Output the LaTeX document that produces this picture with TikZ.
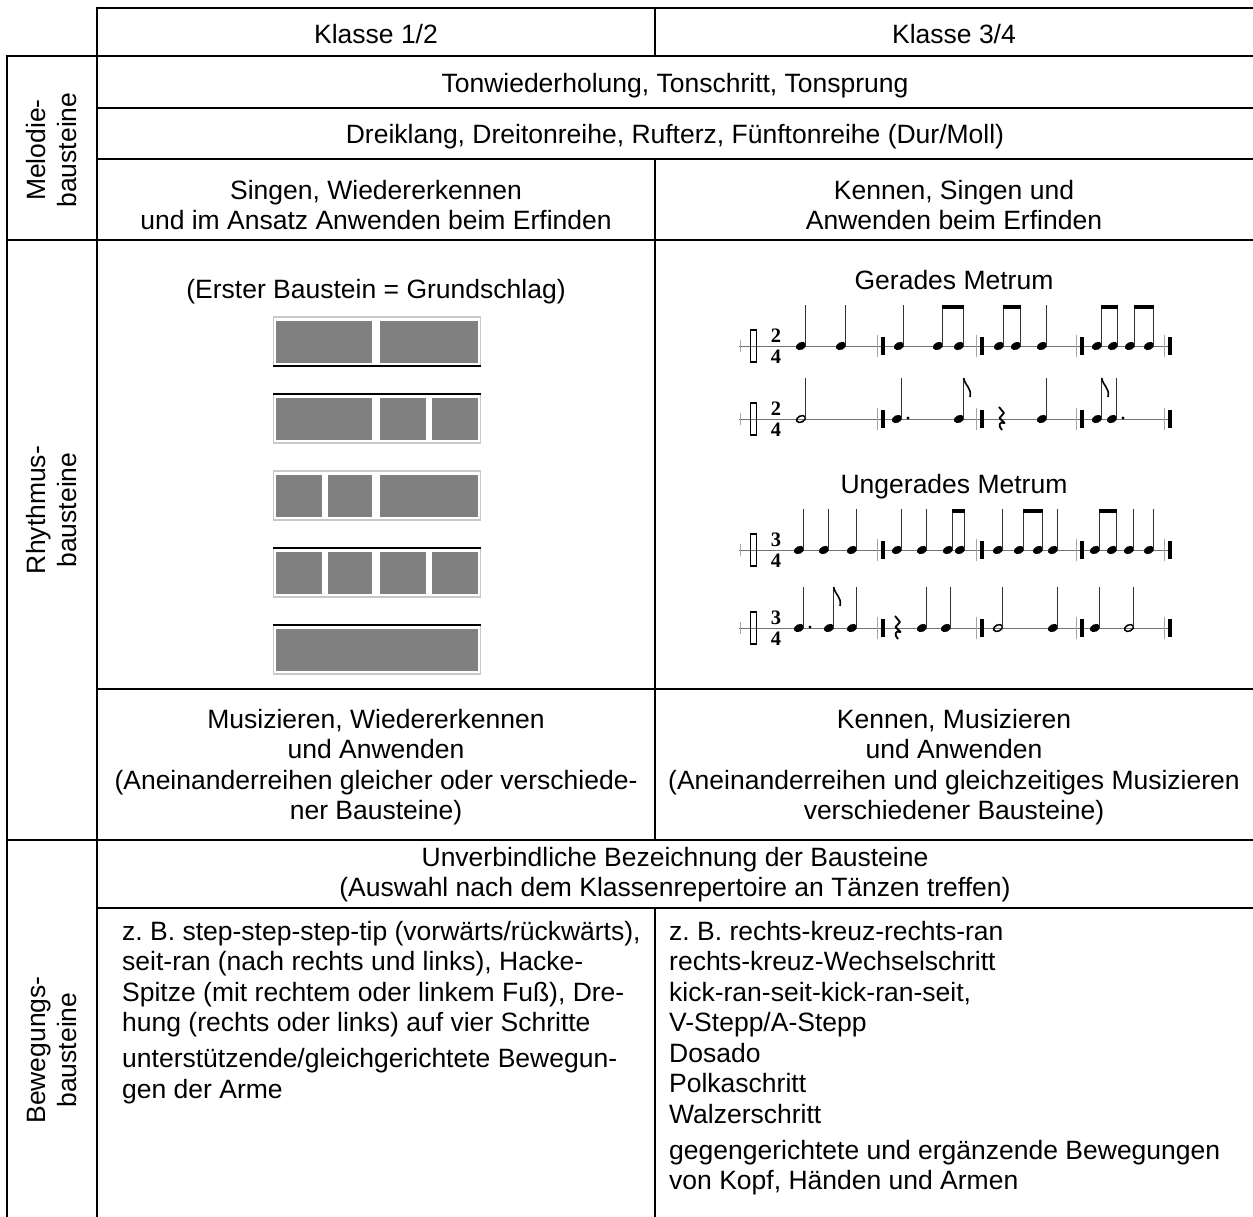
\documentclass[tikz,border=0pt]{standalone}
\usepackage{fontspec}
\setmainfont{Liberation Sans}
\newfontfamily\musicnum{Liberation Serif}
\definecolor{rgray}{RGB}{128,128,128}
\definecolor{bgray}{RGB}{200,200,200}
\newcommand\mhead[2]{\fill[rotate around={25:(#1,#2)}] (#1,#2) ellipse [x radius=5.4, y radius=3.8];}
\newcommand\mstem[2]{\draw[mstemline] (#1+4.7,#2-1) -- (#1+4.7,#2-41);}
\newcommand\mq[2]{\mhead{#1}{#2}\mstem{#1}{#2}}
\newcommand\mh[2]{\draw[line width=1.5, rotate around={25:(#1,#2)}] (#1,#2) ellipse [x radius=4.7, y radius=3.1];\mstem{#1}{#2}}
\newcommand\mdotted[2]{\fill (#1+11,#2-1) circle (1.7);}
\newcommand\mflag[2]{\draw[line width=1.6] (#1+4.7,#2-41) .. controls (#1+6,#2-33) and (#1+13,#2-31) .. (#1+11,#2-22);}
\newcommand\mbeam[3]{\draw[line width=4] (#1+4.2,#3-39) -- (#2+5.2,#3-39);}
\newcommand\mrest[2]{\draw[line width=1.8, line join=round] (#1-2,#2-12) -- (#1+3,#2-6) -- (#1-1.5,#2-1) -- (#1+3.5,#2+4) .. controls (#1-2,#2+2) and (#1-3,#2+7) .. (#1+1,#2+11);}
\newcommand\mbar[2]{\draw[black!35, line width=0.8] (#1,#2-11) -- (#1,#2+11);\draw[line width=3.5] (#1+6,#2-9) -- (#1+6,#2+9);}
\newcommand\mstaff[4]{%
  \draw[black!55, line width=0.9] (739,#1) -- (1172,#1);
  \draw[black!35, line width=0.8] (740,#1-6) -- (740,#1+6);
  \draw[line width=1.3] (750.5,#1-16) rectangle (756.5,#1+16);
  \node[tsig] (tsa#4) at (776,#1-10.5) {#2};
  \node[tsig] (tsb#4) at (776,#1+10.5) {#3};}
\newcommand\rblk[2]{%
  \draw[bgray, line width=1.6] (273.5,#1) rectangle (480.5,#1+49);
  \foreach \a/\b in {#2} \fill[rgray] (\a,#1+3.5) rectangle (\b,#1+45.5);}
\begin{document}
\frenchspacing
\begin{tikzpicture}[x=1pt,y=-1pt,
  grid/.style={line width=2.6pt},
  txt/.style={font=\fontsize{26.5}{30.5}\selectfont, inner sep=0pt, anchor=base},
  txtw/.style={txt, anchor=base west},
  side/.style={font=\fontsize{26.5}{31}\selectfont, inner sep=0pt, rotate=90, align=center},
  tsig/.style={font=\musicnum\bfseries\fontsize{20.5}{20.5}\selectfont, inner sep=0pt},
  mstemline/.style={line width=1.1, black!80}]
\useasboundingbox (0,0) rectangle (1253,1216);
% grid
\draw[grid] (97,8) -- (1262,8);
\draw[grid] (5.7,56) -- (1262,56);
\draw[grid] (97,108) -- (1262,108);
\draw[grid] (97,159) -- (1262,159);
\draw[grid] (5.7,240) -- (1262,240);
\draw[grid] (97,689) -- (1262,689);
\draw[grid] (5.7,840) -- (1262,840);
\draw[grid] (97,908) -- (1262,908);
\draw[grid] (7,56) -- (7,1230);
\draw[grid] (97,6.7) -- (97,1230);
\draw[grid] (655,8) -- (655,56);
\draw[grid] (655,159) -- (655,840);
\draw[grid] (655,908) -- (655,1230);
% header
\node[txt] (k12) at (376,43) {Klasse 1/2};
\node[txt] (k34) at (954,43) {Klasse 3/4};
% side labels
\node[side] (mel) at (52,150) {Melodie-\\bausteine};
\node[side] (rhy) at (52,510) {Rhythmus-\\bausteine};
\node[side] (bew) at (52,1050) {Bewegungs-\\bausteine};
% Melodie
\node[txt] (ton) at (675,92) {Tonwiederholung, Tonschritt, Tonsprung};
\node[txt] (drei) at (675,143) {Dreiklang, Dreitonreihe, Rufterz, Fünftonreihe (Dur/Moll)};
\node[txt] (sa) at (376,199) {Singen, Wiedererkennen};
\node[txt] (sb) at (376,229.5) {und im Ansatz Anwenden beim Erfinden};
\node[txt] (ka) at (954,199) {Kennen, Singen und};
\node[txt] (kb) at (954,229.5) {Anwenden beim Erfinden};
% Rhythmus left
\node[txt] (erster) at (376,298) {(Erster Baustein = Grundschlag)};
\rblk{317}{276/372,380/478}
\draw[line width=1.5] (273,366) -- (481,366);
\rblk{394}{276/372,380/426,432/478}
\draw[line width=1.5] (273,394) -- (481,394);
\rblk{471}{276/322,328/372,380/478}
\rblk{548}{276/322,328/372,380/426,432/478}
\draw[line width=1.5] (273,548) -- (481,548);
\rblk{625}{276/478}
\draw[line width=1.5] (273,625) -- (481,625);
% Rhythmus right
\node[txt] (ger) at (954,289) {Gerades Metrum};
\node[txt] (unger) at (954,493) {Ungerades Metrum};
% row 1
\mstaff{346}{2}{4}{r1}
\mq{801}{346}\mq{841}{346}
\mbar{877}{346}
\mq{899}{346}\mq{938}{346}\mq{959}{346}\mbeam{938}{959}{346}
\mbar{976}{346}
\mq{999}{346}\mq{1016}{346}\mbeam{999}{1016}{346}\mq{1042}{346}
\mbar{1076}{346}
\mq{1097}{346}\mq{1113}{346}\mbeam{1097}{1113}{346}\mq{1130}{346}\mq{1149}{346}\mbeam{1130}{1149}{346}
\mbar{1164}{346}
% row 2
\mstaff{419}{2}{4}{r2}
\mh{801}{419}
\mbar{877}{419}
\mq{897}{419}\mdotted{897}{419}\mq{959}{419}\mflag{959}{419}
\mbar{976}{419}
\mrest{1001}{419}\mq{1042}{419}
\mbar{1076}{419}
\mq{1097}{419}\mflag{1097}{419}\mq{1112}{419}\mdotted{1112}{419}
\mbar{1164}{419}
% row 3
\mstaff{550}{3}{4}{r3}
\mq{799}{550}\mq{824}{550}\mq{852}{550}
\mbar{877}{550}
\mq{897}{550}\mq{922}{550}\mq{948}{550}\mq{960}{550}\mbeam{948}{960}{550}
\mbar{976}{550}
\mq{998}{550}\mq{1019}{550}\mq{1038}{550}\mbeam{1019}{1038}{550}\mq{1053}{550}
\mbar{1076}{550}
\mq{1095}{550}\mq{1112}{550}\mbeam{1095}{1112}{550}\mq{1129}{550}\mq{1149}{550}
\mbar{1164}{550}
% row 4
\mstaff{628}{3}{4}{r4}
\mq{799}{628}\mdotted{799}{628}\mq{829}{628}\mflag{829}{628}\mq{852}{628}
\mbar{877}{628}
\mrest{897}{628}\mq{922}{628}\mq{946}{628}
\mbar{976}{628}
\mh{998}{628}\mq{1053}{628}
\mbar{1076}{628}
\mq{1095}{628}\mh{1129}{628}
\mbar{1164}{628}
% Musizieren
\node[txt] (ma) at (376,728) {Musizieren, Wiedererkennen};
\node[txt] (mb) at (376,758.5) {und Anwenden};
\node[txt] (mc) at (376,789) {(Aneinanderreihen gleicher oder verschiede-};
\node[txt] (md) at (376,819.5) {ner Bausteine)};
\node[txt] (na) at (954,728) {Kennen, Musizieren};
\node[txt] (nb) at (954,758.5) {und Anwenden};
\node[txt] (nc) at (954,789) {(Aneinanderreihen und gleichzeitiges Musizieren};
\node[txt] (nd) at (954,819.5) {verschiedener Bausteine)};
% Bewegung
\node[txt] (ua) at (675,866) {Unverbindliche Bezeichnung der Bausteine};
\node[txt] (ub) at (675,896.5) {(Auswahl nach dem Klassenrepertoire an Tänzen treffen)};
\node[txtw] (la) at (122,940) {z. B. step-step-step-tip (vorwärts/rückwärts),};
\node[txtw] (lb) at (122,970.5) {seit-ran (nach rechts und links), Hacke-};
\node[txtw] (lc) at (122,1001) {Spitze (mit rechtem oder linkem Fuß), Dre-};
\node[txtw] (ld) at (122,1031.5) {hung (rechts oder links) auf vier Schritte};
\node[txtw] (le) at (122,1067.5) {unterstützende/gleichgerichtete Bewegun-};
\node[txtw] (lf) at (122,1098) {gen der Arme};
\node[txtw] (ra) at (669,940) {z. B. rechts-kreuz-rechts-ran};
\node[txtw] (rb) at (669,970.5) {rechts-kreuz-Wechselschritt};
\node[txtw] (rc) at (669,1001) {kick-ran-seit-kick-ran-seit,};
\node[txtw] (rd) at (669,1031.5) {V-Stepp/A-Stepp};
\node[txtw] (re) at (669,1062) {Dosado};
\node[txtw] (rf) at (669,1092.5) {Polkaschritt};
\node[txtw] (rg) at (669,1123) {Walzerschritt};
\node[txtw] (rh) at (669,1159) {gegengerichtete und ergänzende Bewegungen};
\node[txtw] (ri) at (669,1189.5) {von Kopf, Händen und Armen};
\end{tikzpicture}
\end{document}
